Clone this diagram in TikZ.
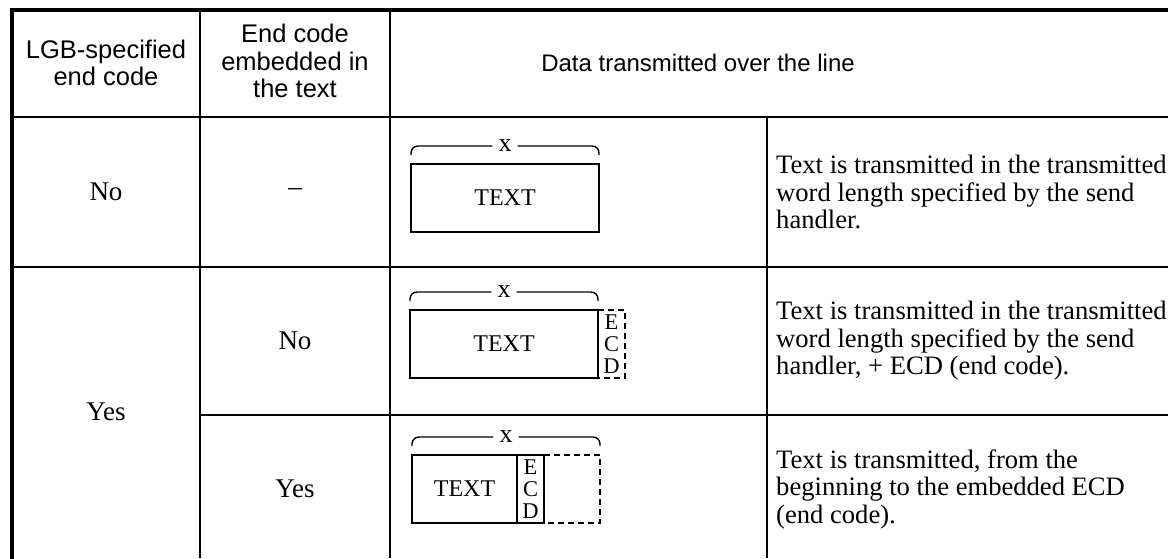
\documentclass[tikz,border=0pt]{standalone}
\usepackage{fontspec}
\setmainfont{Liberation Serif}
\newfontfamily\headfont{Liberation Sans}
\usetikzlibrary{positioning}

\tikzset{
  frame/.style={line width=3.5pt,line cap=rect},
  grid/.style={line width=2.5pt},
  hd/.style={align=center,inner sep=0pt,font=\headfont\fontsize{25.5}{27.5}\selectfont},
  cell/.style={inner sep=0pt,font=\fontsize{27}{28}\selectfont},
  desc/.style={anchor=west,align=left,inner sep=0pt,font=\fontsize{26.6}{27.5}\selectfont},
  word/.style={draw,line width=1.5pt,minimum height=68pt,inner sep=0pt,outer sep=0pt,font=\fontsize{24}{24}\selectfont},
  ecd/.style={minimum width=27pt,minimum height=68pt,inner sep=0pt,outer sep=0pt,align=center,font=\fontsize{22.5}{22}\selectfont},
  len/.style={inner sep=6pt,font=\fontsize{26}{26}\selectfont},
  brace/.style={line width=1.4pt,rounded corners=7pt},
  dash box/.style={line width=1.5pt,dash pattern=on 6pt off 4pt}
}

\begin{document}
\begin{tikzpicture}[x=1pt,y=-1pt]
\useasboundingbox (0,0) rectangle (1168,558);

% table rules
\draw[grid] (12,117) -- (1168,117);
\draw[grid] (12,267) -- (1168,267);
\draw[grid] (200,415) -- (1168,415);
\draw[grid] (200,10) -- (200,558);
\draw[grid] (390,10) -- (390,558);
\draw[grid] (767,117) -- (767,558);
\draw[frame] (12,558) -- (12,10) -- (1168,10);

% header
\node[hd] (H1) at (106,63) {LGB-specified\\end code};
\node[hd] (H2) at (295,61) {End code\\embedded in\\the text};
\node[hd,font=\headfont\fontsize{24}{27}\selectfont] (H3) at (698,63) {Data transmitted over the line};

% first two columns
\node[cell] (A1) at (106,192) {No};
\node[cell] (A2) at (106,412) {Yes};
\node[cell] (B1) at (295,192) {--};
\node[cell] (B2) at (295,341) {No};
\node[cell] (B3) at (295,489) {Yes};

% row 1: text only
\node[word,minimum width=188pt] (T1) at (505,198) {TEXT};
\node[len] (X1) at (505,146) {x};
\draw[brace] ([yshift=9pt]T1.north west) |- (X1.west);
\draw[brace] ([yshift=9pt]T1.north east) |- (X1.east);

% row 2: text + end code appended
\node[word,minimum width=188pt] (T2) at (504,344) {TEXT};
\node[ecd,right=0pt of T2] (E2) {E\\C\\D};
\draw[dash box] (E2.north west) -- (E2.north east) -- (E2.south east) -- (E2.south west);
\node[len] (X2) at (504,292) {x};
\draw[brace] ([yshift=9pt]T2.north west) |- (X2.west);
\draw[brace] ([yshift=9pt]T2.north east) |- (X2.east);

% row 3: end code inside the text
\node[word,minimum width=105pt] (T3) at (464.5,489) {TEXT};
\node[ecd,draw,line width=1.5pt,right=0pt of T3] (E3) {E\\C\\D};
\node[ecd,minimum width=56pt,right=0pt of E3] (F3) {};
\draw[dash box] (F3.north west) -- (F3.north east) -- (F3.south east) -- (F3.south west);
\node[len] (X3) at (506,437) {x};
\draw[brace] ([yshift=9pt]T3.north west) |- (X3.west);
\draw[brace] ([yshift=9pt]F3.north east) |- (X3.east);

% descriptions
\node[desc] (D1) at (776,192) {Text is transmitted in the transmitted\\word length specified by the send\\handler.};
\node[desc] (D2) at (776,341) {Text is transmitted in the transmitted\\word length specified by the send\\handler, + ECD (end code).};
\node[desc] (D3) at (776,489) {Text is transmitted, from the\\beginning to the embedded ECD\\(end code).};

\end{tikzpicture}
\end{document}
